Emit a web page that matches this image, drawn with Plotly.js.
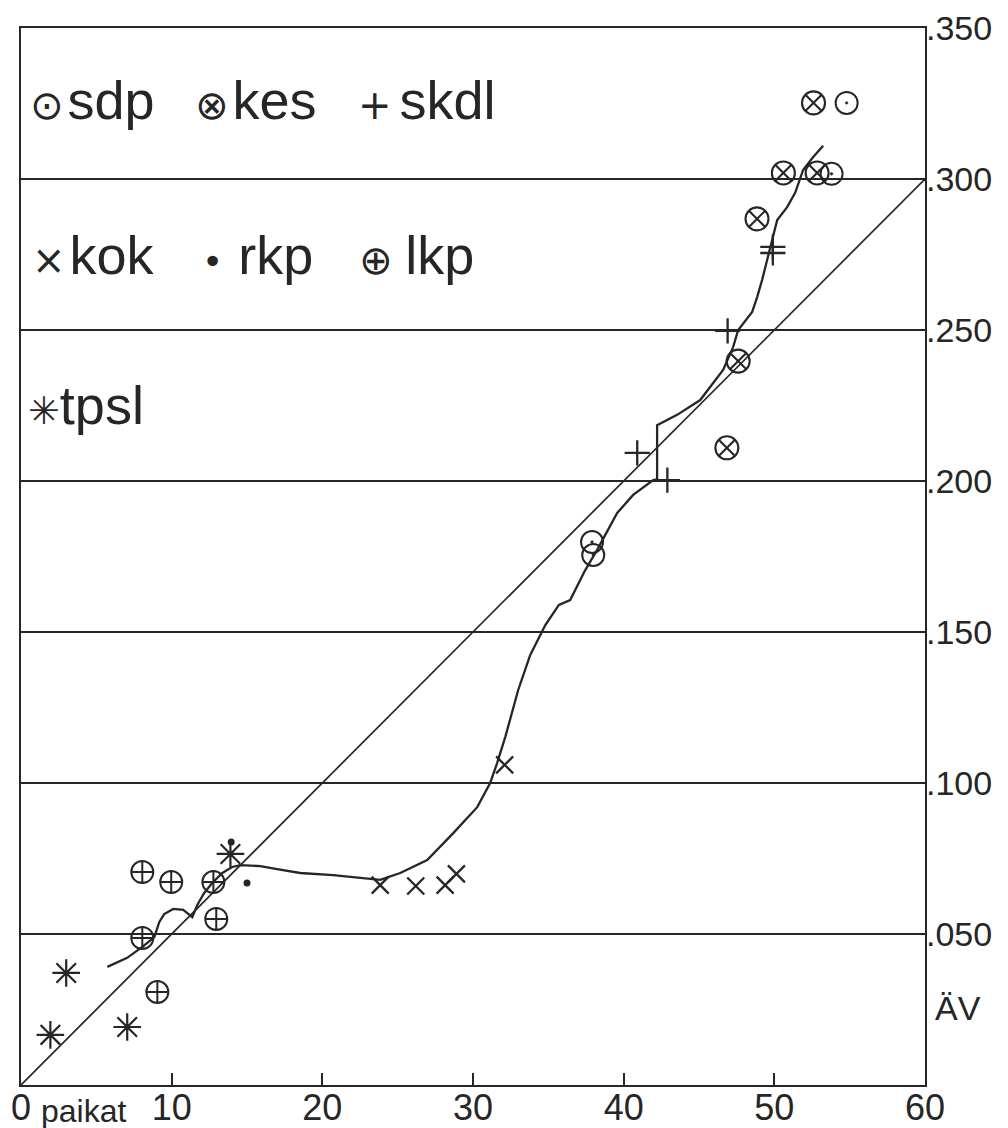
<!DOCTYPE html>
<html>
<head>
<meta charset="utf-8">
<script src="https://cdn.plot.ly/plotly-3.0.1.min.js"></script>
<style>html,body{margin:0;padding:0;background:#fff;}#chart{width:1008px;height:1128px;}</style>
</head>
<body>
<div id="chart"></div>
<script>
// ---- data ----
const sdpX = [37.9, 37.98, 54.8, 53.8];
const sdpY = [0.1798, 0.1755, 0.3252, 0.3017];
const kesX = [47.6, 46.85, 52.6, 50.6, 52.84, 48.85];
const kesY = [0.2397, 0.211, 0.3252, 0.302, 0.302, 0.2868];
const skdlX = [40.9, 42.9, 46.9, 49.9, 49.9];
const skdlY = [0.2093, 0.2003, 0.2497, 0.2775, 0.2755];
const kokX = [23.84, 26.2, 28.15, 28.9, 32.1];
const kokY = [0.0662, 0.0659, 0.0662, 0.0699, 0.106];
const rkpX = [13.95, 15.0];
const rkpY = [0.0805, 0.0669];
const lkpX = [8.05, 9.97, 12.77, 12.96, 8.05, 9.05];
const lkpY = [0.0705, 0.0672, 0.0672, 0.055, 0.0487, 0.0308];
const tpslX = [1.95, 3.0, 7.05, 13.9];
const tpslY = [0.0166, 0.0371, 0.0192, 0.0765];

const curveX = [5.73, 7.05, 8.12, 8.85, 9.18, 9.51, 10.1, 10.77, 11.37, 11.7, 12.16, 12.69, 13.36, 14.02, 14.55, 15.88, 17.0, 18.53, 20.72, 23.84, 25.17, 26.96, 28.69, 30.28, 31.14, 31.6, 32.14, 32.47, 33.0, 33.8, 34.8, 35.7, 36.45, 37.45, 38.24, 39.57, 40.63, 41.96, 42.22, 42.22, 43.55, 45.08, 46.6, 47.27, 47.6, 48.53, 48.86, 49.19, 49.72, 50.19, 50.85, 51.38, 51.91, 52.58, 53.24];
const curveY = [0.0391, 0.0421, 0.046, 0.049, 0.054, 0.0566, 0.0583, 0.058, 0.0556, 0.0596, 0.0636, 0.0669, 0.0702, 0.0722, 0.0728, 0.0725, 0.0715, 0.0702, 0.0695, 0.0679, 0.0702, 0.0745, 0.0834, 0.092, 0.100, 0.1066, 0.1152, 0.1209, 0.1308, 0.1424, 0.1523, 0.159, 0.1606, 0.1705, 0.1772, 0.1894, 0.1954, 0.2003, 0.2005, 0.2185, 0.2219, 0.2268, 0.2368, 0.2444, 0.25, 0.256, 0.2609, 0.2666, 0.2775, 0.2864, 0.2907, 0.2954, 0.303, 0.3073, 0.311];

const diagX = [0, 60];
const diagY = [0, 0.3];

const xTickVals = [0, 10, 20, 30, 40, 50, 60];
const xTickText = ['0', '10', '20', '30', '40', '50', '60'];
const yTickVals = [0.05, 0.10, 0.15, 0.20, 0.25, 0.30, 0.35];
const yTickText = ['.050', '.100', '.150', '.200', '.250', '.300', '.350'];

// ---- drawing ----
const ink = '#262626';
const FONT = 'Liberation Sans, Arial, DejaVu Sans, sans-serif';
const SYMFONT = 'DejaVu Sans, sans-serif';

function pts(x, y, symbol, size, lw) {
  return {x: x, y: y, type: 'scatter', mode: 'markers', hoverinfo: 'skip', cliponaxis: false,
    marker: {symbol: symbol, size: size, color: ink, line: {color: ink, width: lw}}};
}

const traces = [
  {x: diagX, y: diagY, type: 'scatter', mode: 'lines', line: {color: ink, width: 1.7}, hoverinfo: 'skip'},
  {x: curveX, y: curveY, type: 'scatter', mode: 'lines', line: {color: ink, width: 2.3}, hoverinfo: 'skip'},
  pts(sdpX, sdpY, 'circle-open-dot', 22, 2),
  pts(kesX, kesY, 'circle-x-open', 23, 2.1),
  pts(skdlX, skdlY, 'cross-thin-open', 18, 2.3),
  pts(kokX, kokY, 'x-thin-open', 17, 2.3),
  pts(rkpX, rkpY, 'circle', 7, 0),
  pts(lkpX, lkpY, 'circle-cross-open', 22, 2),
  pts(tpslX, tpslY, 'asterisk-open', 23, 2.2)
];

function lab(sym, name, px, y, symSize) {
  return {text: '<span style="font-family:' + SYMFONT + ';font-size:' + symSize + 'px">' + sym + '</span>' + name,
    x: (px - 21) / 904, y: y / 0.35, xref: 'paper', yref: 'paper', xanchor: 'left', yanchor: 'middle', showarrow: false,
    font: {family: FONT, size: 54, color: ink}};
}

const annotations = [
  lab('⊙\u200A', 'sdp', 28, 0.3262, 40),
  lab('⊗\u200A', 'kes', 193, 0.3262, 40),
  lab('+\u2009', 'skdl', 356, 0.3262, 40),
  lab('×\u200A', 'kok', 30, 0.2748, 40),
  lab('•', ' rkp', 200, 0.2748, 36),
  lab('⊕ ', 'lkp', 357, 0.2748, 40),
  lab('✳', 'tpsl', 26, 0.2252, 38),
  {text: 'paikat', x: (84 - 21) / 904, y: -0.006, xref: 'paper', yref: 'paper', xanchor: 'center', yanchor: 'top', showarrow: false,
    font: {family: FONT, size: 32, color: ink}},
  {text: 'ÄV', x: (933 - 21) / 904, y: 0.0255 / 0.35, xref: 'paper', yref: 'paper', xanchor: 'left', yanchor: 'middle', showarrow: false,
    font: {family: FONT, size: 34, color: ink}}
];

const layout = {
  width: 1008, height: 1128,
  margin: {l: 21, r: 83, t: 28, b: 43, pad: 0},
  paper_bgcolor: '#fff', plot_bgcolor: '#fff',
  showlegend: false,
  xaxis: {range: [0, 60], tickvals: xTickVals, ticktext: xTickText, ticks: 'inside', ticklen: 12, tickwidth: 2, tickcolor: ink,
    showgrid: false, zeroline: false, showline: true, mirror: true, linecolor: ink, linewidth: 2.2,
    tickfont: {family: FONT, size: 36, color: ink}, ticklabelstandoff: -10, fixedrange: true},
  yaxis: {range: [0, 0.35], side: 'right', tickvals: yTickVals, ticktext: yTickText, ticks: '',
    showgrid: true, gridcolor: ink, gridwidth: 1.7, zeroline: false, showline: true, mirror: true, linecolor: ink, linewidth: 2.2,
    tickfont: {family: FONT, size: 34, color: ink}, ticklabelstandoff: -8, fixedrange: true},
  annotations: annotations
};

Plotly.newPlot('chart', traces, layout, {staticPlot: true, displayModeBar: false});
</script>
</body>
</html>
